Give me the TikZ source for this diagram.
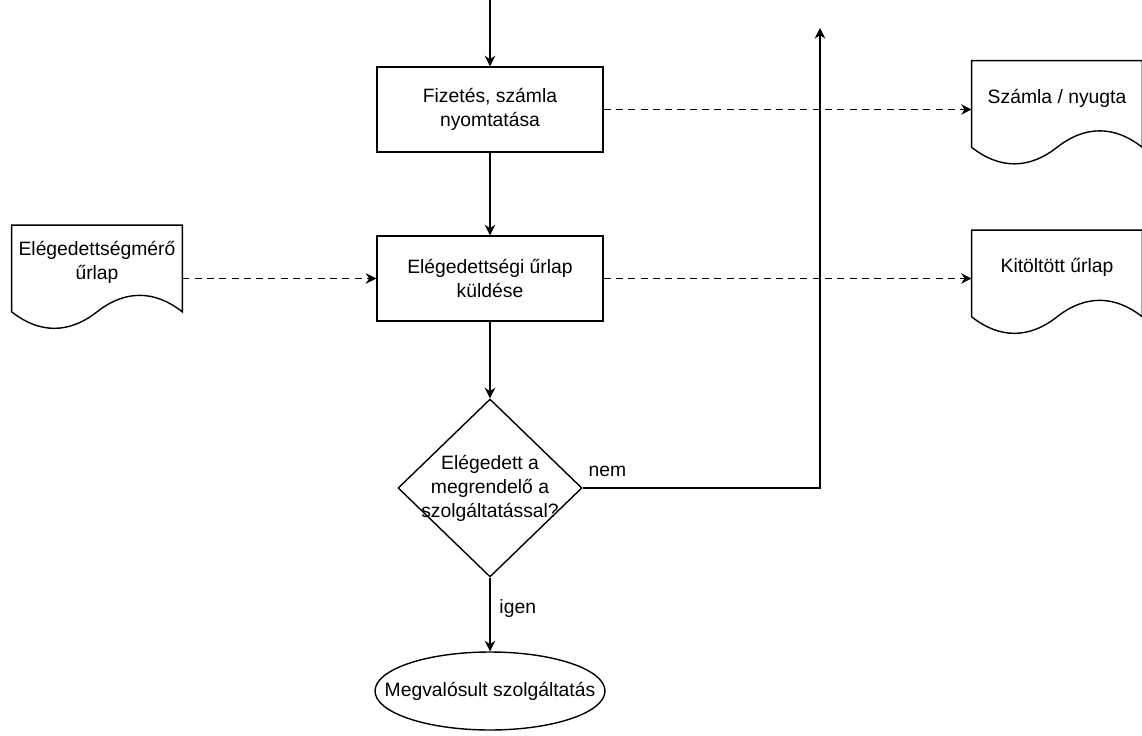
\documentclass[tikz,border=0pt]{standalone}
\usepackage{fontspec}
\setmainfont{Liberation Sans}
\usetikzlibrary{arrows.meta,shapes.geometric,positioning}

\tikzset{
  folyamat/.style={draw,line width=0.8pt,minimum width=4.52cm,minimum height=1.7cm,align=center,inner sep=0pt},
  dokumentum/.style={minimum width=3.4cm,minimum height=1.72cm,align=center,inner sep=0pt,text depth=9pt},
  dontesbox/.style={draw,diamond,line width=0.8pt,minimum width=3.68cm,minimum height=3.56cm,inner sep=0pt},
  vegpont/.style={draw,ellipse,line width=0.8pt,minimum width=4.6cm,minimum height=1.56cm,inner sep=0pt},
  nyil/.style={line width=0.8pt,-{Stealth[length=6pt,width=6pt]}},
  szaggatott/.style={nyil,dash pattern=on 4pt off 3pt}
}
% hullamos aljú dokumentum keret egy node köré
\newcommand{\dokalak}[1]{\draw[line width=0.8pt] (#1.south west) .. controls +(28,22) and +(-28,22) .. (#1.south) .. controls +(28,-22) and +(-28,-22) .. (#1.south east) -- (#1.north east) -- (#1.north west) -- cycle;}

\begin{document}
\begin{tikzpicture}[x=0.02cm,y=-0.02cm,font=\fontsize{11}{13.6}\selectfont]
  \useasboundingbox (0,0) rectangle (1142,736);

  \node[folyamat] (fizetes) at (490,109.5) {Fizetés, számla\\nyomtatása};
  \node[folyamat] (kuldes) at (490,278.5) {Elégedettségi űrlap\\küldése};
  \node[dontesbox,label={[align=center]center:{Elégedett a\\megrendelő a\\szolgáltatással?}}] (elegedett) at (490,488) {};
  \node[vegpont,label=center:Megvalósult szolgáltatás] (megvalosult) at (490,691) {};

  \node[dokumentum] (meromlap) at (97,268.5) {Elégedettségmérő\\űrlap};
  \node[dokumentum] (szamla) at (1057,104) {Számla / nyugta};
  \node[dokumentum] (kitoltott) at (1057,273.5) {Kitöltött űrlap};
  \dokalak{meromlap}
  \dokalak{szamla}
  \dokalak{kitoltott}

  \coordinate (be) at (490,0);
  \coordinate (vissza) at (820,28);

  \draw[nyil] (be) -- (fizetes);
  \draw[nyil] (fizetes) -- (kuldes);
  \draw[nyil] (kuldes) -- (elegedett);
  \draw[nyil] (elegedett) -- node[pos=0.42,right,inner sep=5pt]{igen} (megvalosult);
  \draw[nyil] (elegedett.east) -- node[pos=0,anchor=south west,inner sep=3pt,yshift=3pt]{nem} (vissza |- elegedett.east) -- (vissza);

  \draw[szaggatott] (meromlap.east |- kuldes) -- (kuldes.west);
  \draw[szaggatott] (fizetes.east) -- (szamla.west |- fizetes);
  \draw[szaggatott] (kuldes.east) -- (kitoltott.west |- kuldes);
\end{tikzpicture}
\end{document}
